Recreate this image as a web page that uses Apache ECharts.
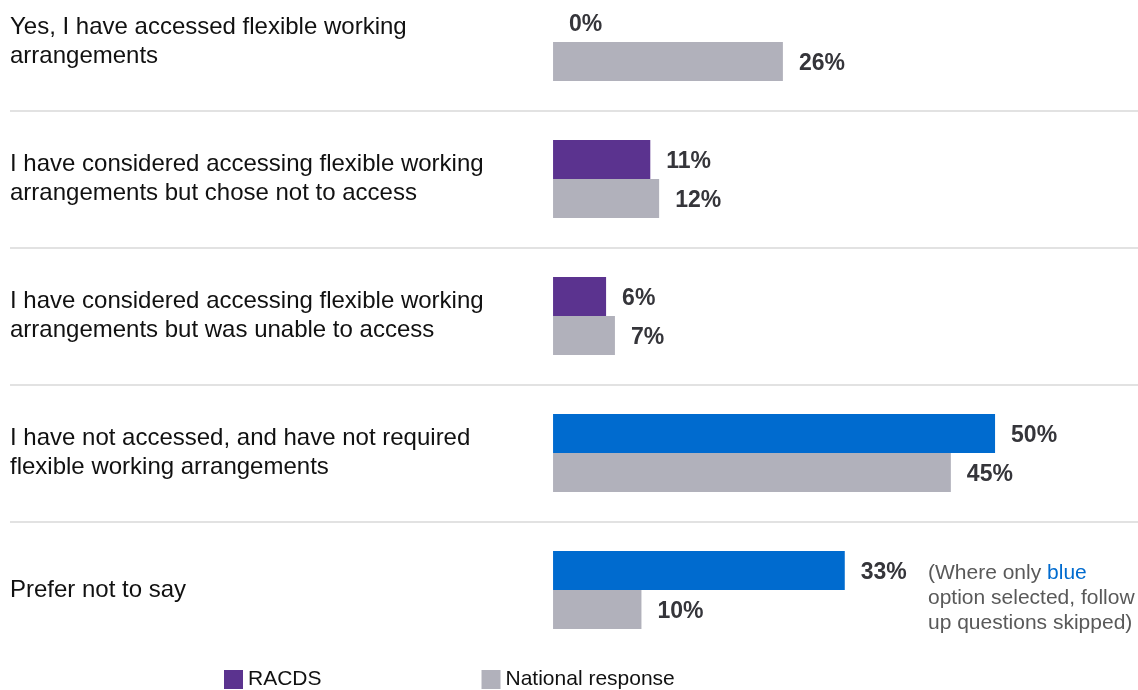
<!DOCTYPE html>
<html>
<head>
<meta charset="utf-8">
<style>
  html, body { margin: 0; padding: 0; background: #ffffff; }
  #chart { width: 1138px; height: 690px; }
</style>
<script src="https://cdn.jsdelivr.net/npm/echarts@6/dist/echarts.min.js"></script>
</head>
<body>
<div id="chart"></div>
<script>
const categories = [
  "Yes, I have accessed flexible working\narrangements",
  "I have considered accessing flexible working\narrangements but chose not to access",
  "I have considered accessing flexible working\narrangements but was unable to access",
  "I have not accessed, and have not required\nflexible working arrangements",
  "Prefer not to say"
];
const racdsValues = [0, 11, 6, 50, 33];
const nationalValues = [26, 12, 7, 45, 10];
const seriesNames = ["RACDS", "National response"];
const blueOnly = [false, false, false, true, true];

const PURPLE = "#5B338F";
const BLUE = "#006BCF";
const GRAY = "#B1B1BB";
const LABEL = "#35353a";
const SEP = "#d9d9d9";

const chart = echarts.init(document.getElementById("chart"), null, { renderer: "canvas" });

const valueLabel = {
  show: true,
  position: "right",
  distance: 16,
  offset: [0, 2],
  formatter: p => p.value + "%",
  color: LABEL,
  fontFamily: "Liberation Sans, Arial, sans-serif",
  fontWeight: "bold",
  fontSize: 23
};

chart.setOption({
  animation: false,
  backgroundColor: "#ffffff",
  grid: { left: 10, right: 0, top: -26.5, bottom: 31.5, containLabel: false, outerBoundsMode: "none" },
  xAxis: {
    type: "value",
    min: -61.43,
    max: 66.17,
    show: false
  },
  yAxis: {
    type: "category",
    inverse: true,
    data: categories,
    axisLine: { show: false },
    axisTick: { show: false },
    splitLine: {
      show: true,
      lineStyle: { color: [SEP, SEP, SEP, SEP, SEP, "rgba(255,255,255,0)"], width: 1.5 }
    },
    axisLabel: {
      inside: true,
      margin: 0,
      align: "left",
      verticalAlign: "middle",
      color: "#111111",
      fontFamily: "Liberation Sans, Arial, sans-serif",
      fontSize: 24,
      lineHeight: 29,
      padding: [3, 0, 0, 0]
    }
  },
  legend: {
    left: 224,
    top: 669,
    padding: 0,
    itemWidth: 19,
    itemHeight: 19,
    itemGap: 160,
    icon: "rect",
    textStyle: {
      color: "#111111",
      fontFamily: "Liberation Sans, Arial, sans-serif",
      fontSize: 21
    },
    data: seriesNames
  },
  series: [
    {
      name: seriesNames[0],
      type: "bar",
      barWidth: 39,
      barGap: "0%",
      itemStyle: { color: PURPLE },
      label: valueLabel,
      data: racdsValues.map((v, i) => ({
        value: v,
        itemStyle: { color: blueOnly[i] ? BLUE : PURPLE }
      }))
    },
    {
      name: seriesNames[1],
      type: "bar",
      barWidth: 39,
      barGap: "0%",
      itemStyle: { color: GRAY },
      label: valueLabel,
      data: nationalValues
    }
  ],
  graphic: [
    {
      type: "text",
      left: 928,
      top: 563,
      style: {
        text: "{a|(Where only }{b|blue}\n{a|option selected, follow}\n{a|up questions skipped)}",
        rich: {
          a: { fontFamily: "Liberation Sans, Arial, sans-serif", fontSize: 21, lineHeight: 25, fill: "#595959" },
          b: { fontFamily: "Liberation Sans, Arial, sans-serif", fontSize: 21, lineHeight: 25, fill: BLUE }
        }
      }
    }
  ]
});
</script>
</body>
</html>
